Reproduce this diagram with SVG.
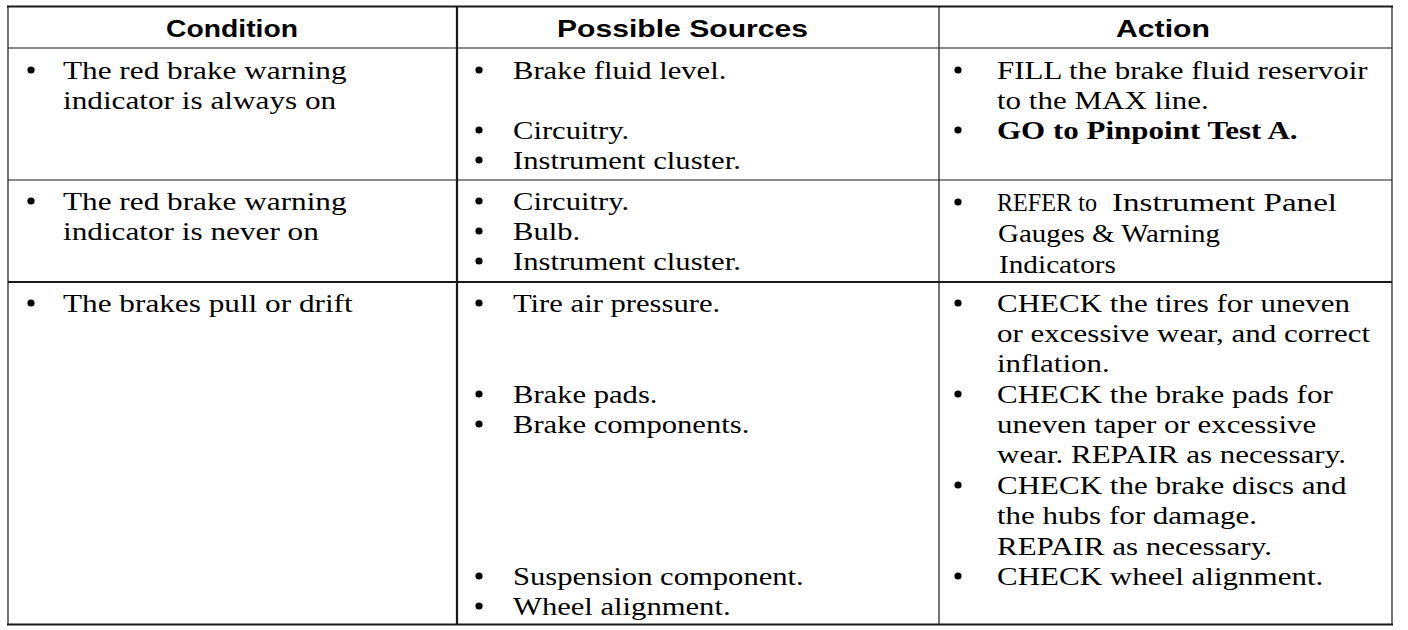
<svg xmlns="http://www.w3.org/2000/svg" width="1408" height="630" viewBox="0 0 1408 630">
<style>
.bg{fill:#ffffff}
.ln{stroke:#1a1a1a;fill:none}
.thin{stroke-width:1.2}
.thick{stroke-width:2.2}
.hd{font-family:"Liberation Sans",Arial,sans-serif;font-weight:bold;font-size:24px;fill:#000}
.tx{font-family:"Liberation Serif","Times New Roman",serif;font-size:25px;fill:#000}
.bd{font-weight:bold}
.alt{font-family:"Liberation Serif","Times New Roman",serif;font-size:25px;fill:#000}
.bu{fill:#000}
</style>
<defs>
  <circle id="dot" r="3.6" class="bu"/>
</defs>
<rect class="bg" x="0" y="0" width="1408" height="630"/>
<g id="grid">
  <line class="ln thick" x1="7" y1="6.5" x2="1393" y2="6.5"/>
  <line class="ln thick" x1="7" y1="624.5" x2="1393" y2="624.5"/>
  <line class="ln thin" x1="8" y1="6" x2="8" y2="625"/>
  <line class="ln thin" x1="1392" y1="6" x2="1392" y2="625"/>
  <line class="ln thin" x1="8" y1="48" x2="1392" y2="48"/>
  <line class="ln thin" x1="8" y1="180" x2="1392" y2="180"/>
  <line class="ln thick" x1="8" y1="282" x2="1392" y2="282"/>
  <line class="ln thick" x1="457" y1="6" x2="457" y2="625"/>
  <line class="ln thin" x1="939" y1="6" x2="939" y2="625"/>
</g>
<g id="header">
  <text class="hd" x="166" y="37" textLength="132" lengthAdjust="spacingAndGlyphs">Condition</text>
  <text class="hd" x="557" y="37" textLength="251" lengthAdjust="spacingAndGlyphs">Possible Sources</text>
  <text class="hd" x="1116" y="37" textLength="94" lengthAdjust="spacingAndGlyphs">Action</text>
</g>
<g id="bullets">
  <use href="#dot" x="31" y="70"/>
  <use href="#dot" x="31" y="201"/>
  <use href="#dot" x="31" y="303"/>
  <use href="#dot" x="479" y="70"/>
  <use href="#dot" x="479" y="130"/>
  <use href="#dot" x="479" y="160"/>
  <use href="#dot" x="479" y="201"/>
  <use href="#dot" x="479" y="231"/>
  <use href="#dot" x="479" y="261"/>
  <use href="#dot" x="479" y="303"/>
  <use href="#dot" x="479" y="394"/>
  <use href="#dot" x="479" y="424"/>
  <use href="#dot" x="479" y="576"/>
  <use href="#dot" x="479" y="606"/>
  <use href="#dot" x="958" y="70"/>
  <use href="#dot" x="958" y="130"/>
  <use href="#dot" x="958" y="202"/>
  <use href="#dot" x="958" y="303"/>
  <use href="#dot" x="958" y="394"/>
  <use href="#dot" x="958" y="485"/>
  <use href="#dot" x="958" y="576"/>
</g>
<g id="condition" transform="translate(63,0) scale(1.25,1)">
  <text class="tx" x="0" y="79">The red brake warning</text>
  <text class="tx" x="0" y="109">indicator is always on</text>
  <text class="tx" x="0" y="210">The red brake warning</text>
  <text class="tx" x="0" y="240">indicator is never on</text>
  <text class="tx" x="0" y="312">The brakes pull or drift</text>
</g>
<g id="sources" transform="translate(513,0) scale(1.225,1)">
  <text class="tx" x="0" y="79">Brake fluid level.</text>
  <text class="tx" x="0" y="139">Circuitry.</text>
  <text class="tx" x="0" y="169">Instrument cluster.</text>
  <text class="tx" x="0" y="210">Circuitry.</text>
  <text class="tx" x="0" y="240">Bulb.</text>
  <text class="tx" x="0" y="270">Instrument cluster.</text>
  <text class="tx" x="0" y="312">Tire air pressure.</text>
  <text class="tx" x="0" y="403">Brake pads.</text>
  <text class="tx" x="0" y="433">Brake components.</text>
  <text class="tx" x="0" y="585">Suspension component.</text>
  <text class="tx" x="0" y="615">Wheel alignment.</text>
</g>
<g id="action" transform="translate(997,0) scale(1.24,1)">
  <text class="tx" x="0" y="79">FILL the brake fluid reservoir</text>
  <text class="tx" x="0" y="109">to the MAX line.</text>
  <text class="tx bd" x="0" y="139">GO to Pinpoint Test A.</text>
  <text class="tx" x="0" y="312">CHECK the tires for uneven</text>
  <text class="tx" x="0" y="342">or excessive wear, and correct</text>
  <text class="tx" x="0" y="372">inflation.</text>
  <text class="tx" x="0" y="403">CHECK the brake pads for</text>
  <text class="tx" x="0" y="433">uneven taper or excessive</text>
  <text class="tx" x="0" y="463">wear. REPAIR as necessary.</text>
  <text class="tx" x="0" y="494">CHECK the brake discs and</text>
  <text class="tx" x="0" y="524">the hubs for damage.</text>
  <text class="tx" x="0" y="555">REPAIR as necessary.</text>
  <text class="tx" x="0" y="585">CHECK wheel alignment.</text>
</g>
<g id="action-refer">
  <text class="alt" x="997" y="211" textLength="100" lengthAdjust="spacingAndGlyphs">REFER to</text>
  <text class="alt" x="1112" y="211" textLength="225" lengthAdjust="spacingAndGlyphs">Instrument Panel</text>
  <text class="alt" x="998" y="242" textLength="222" lengthAdjust="spacingAndGlyphs">Gauges &amp; Warning</text>
  <text class="alt" x="999" y="273" textLength="117" lengthAdjust="spacingAndGlyphs">Indicators</text>
</g>
</svg>
